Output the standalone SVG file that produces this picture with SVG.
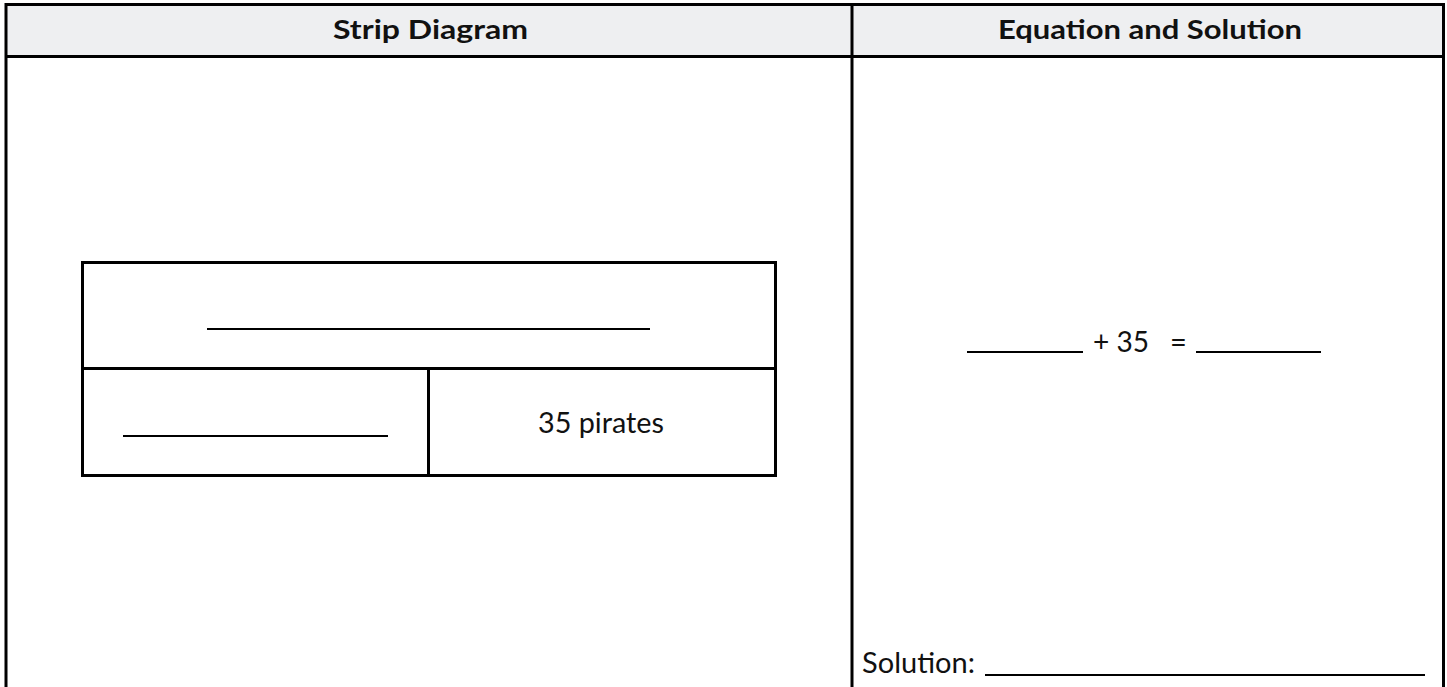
<svg xmlns="http://www.w3.org/2000/svg" width="1447" height="687" viewBox="0 0 1447 687">
  <style>
    .border { stroke: #000; stroke-width: 3; fill: none; }
    .blank { stroke: #000; stroke-width: 2; }
    .head { font-family: Lato, "Open Sans", "Liberation Sans", sans-serif; font-weight: bold; font-size: 26px; fill: #111; }
    .body { font-family: Lato, "Open Sans", "Liberation Sans", sans-serif; font-size: 29px; fill: #111; }
  </style>
  <rect width="1447" height="687" fill="#fff"/>

  <!-- worksheet table: header row plus two tall columns -->
  <g id="table">
    <rect x="6" y="4.5" width="1437.5" height="52" fill="#eeeff1"/>
    <path class="border" d="M6 700 V4.5 H1443.5 V700 M6 56.5 H1443.5 M852 4.5 V700"/>
    <text class="head" x="333" y="39" textLength="195" lengthAdjust="spacingAndGlyphs">Strip Diagram</text>
    <text class="head" x="998" y="39" textLength="304" lengthAdjust="spacingAndGlyphs">Equation and Solution</text>
  </g>

  <!-- strip diagram: whole on top, two parts below -->
  <g id="strip-whole">
    <rect class="border" x="82.5" y="262.5" width="693" height="106"/>
    <line class="blank" x1="207" y1="329" x2="650" y2="329"/>
  </g>
  <g id="strip-part-unknown">
    <rect class="border" x="82.5" y="368.5" width="346" height="107"/>
    <line class="blank" x1="123" y1="436" x2="388" y2="436"/>
  </g>
  <g id="strip-part-35">
    <rect class="border" x="428.5" y="368.5" width="347" height="107"/>
    <text class="body" x="538" y="433" textLength="126" lengthAdjust="spacingAndGlyphs">35 pirates</text>
  </g>

  <!-- equation -->
  <g id="equation">
    <line class="blank" x1="967" y1="352" x2="1083" y2="352"/>
    <text class="body" y="352"><tspan x="1093" textLength="56" lengthAdjust="spacingAndGlyphs">+ 35</tspan><tspan x="1170">=</tspan></text>
    <line class="blank" x1="1196" y1="352" x2="1321" y2="352"/>
  </g>

  <!-- solution line -->
  <g id="solution">
    <text class="body" x="862" y="673" textLength="113" lengthAdjust="spacingAndGlyphs">Solution:</text>
    <line class="blank" x1="985" y1="675" x2="1425" y2="675"/>
  </g>

  <g id="connectors"></g>
</svg>
